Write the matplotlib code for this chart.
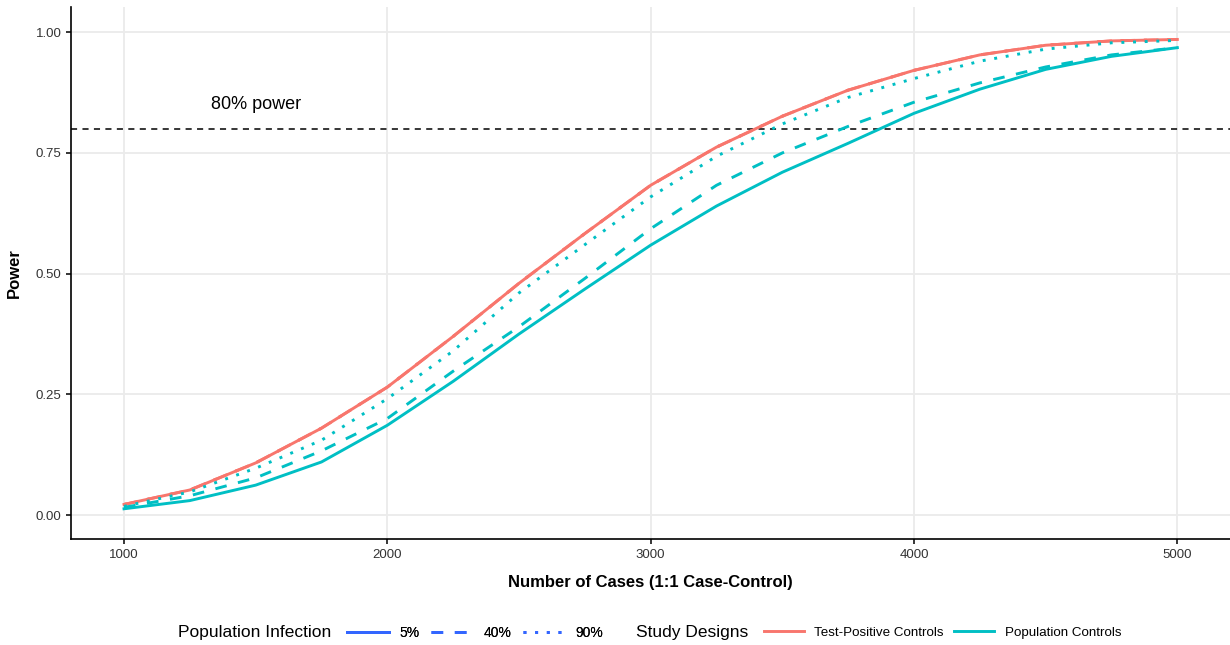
import matplotlib
matplotlib.use("Agg")
from matplotlib import pyplot as plt
from matplotlib.lines import Line2D

plt.rcParams['font.family'] = ['Liberation Sans', 'DejaVu Sans']

cases = [1000, 1250, 1500, 1750, 2000, 2250, 2500, 2750, 3000,
         3250, 3500, 3750, 4000, 4250, 4500, 4750, 5000]

# test-positive controls (same for every infection level)
test_pos = [0.022, 0.052, 0.108, 0.180, 0.265, 0.370, 0.480, 0.583, 0.683,
            0.762, 0.826, 0.880, 0.921, 0.953, 0.973, 0.982, 0.985]

# population controls by population infection
pop_5 = [0.013, 0.030, 0.062, 0.110, 0.186, 0.277, 0.375, 0.468, 0.559,
         0.640, 0.710, 0.770, 0.832, 0.882, 0.923, 0.950, 0.968]
pop_40 = [0.016, 0.040, 0.077, 0.133, 0.200, 0.298, 0.390, 0.490, 0.593,
          0.683, 0.750, 0.805, 0.855, 0.895, 0.928, 0.953, 0.968]
pop_90 = [0.018, 0.048, 0.097, 0.155, 0.241, 0.340, 0.460, 0.560, 0.659,
          0.743, 0.810, 0.865, 0.904, 0.940, 0.965, 0.978, 0.983]

infections = ['5%', '40%', '90%']
designs = ['Test-Positive Controls', 'Population Controls']
red = '#F8766D'
teal = '#00BFC4'
blue = '#3366FF'
styles = ['-', (0, (4, 4)), (0, (1, 3))]

fig = plt.figure(figsize=(12.3, 6.45), dpi=100)
ax = fig.add_axes([0.058, 0.164, 0.942, 0.825])

for pop, ls in zip([pop_5, pop_40, pop_90], styles):
    ax.plot(cases, test_pos, color=red, lw=2.1, ls=ls, zorder=3)
for pop, ls in zip([pop_5, pop_40, pop_90], styles):
    ax.plot(cases, pop, color=teal, lw=2.1, ls=ls, zorder=3)

ax.axhline(0.8, color='black', lw=1.1, ls=(0, (4, 3.5)), zorder=2)
ax.text(1500, 0.85, '80% power', fontsize=13, ha='center', va='center')

ax.set_xlim(800, 5200)
ax.set_ylim(-0.05, 1.052)
ax.set_xticks([1000, 2000, 3000, 4000, 5000])
ax.set_yticks([0, 0.25, 0.5, 0.75, 1.0])
ax.set_yticklabels(['0.00', '0.25', '0.50', '0.75', '1.00'])
ax.grid(True, color='#EBEBEB', lw=1.3, zorder=0)
ax.set_axisbelow(True)
for s in ['top', 'right']:
    ax.spines[s].set_visible(False)
for s in ['left', 'bottom']:
    ax.spines[s].set_linewidth(1.2)
ax.tick_params(labelsize=9.5, colors='#333333', length=3.5, width=1.1)
ax.tick_params(color='black')

ax.set_xlabel('Number of Cases (1:1 Case-Control)', fontsize=12, fontweight='bold', labelpad=10)
ax.set_ylabel('Power', fontsize=12, fontweight='bold', labelpad=10)

# legends at the bottom
inf_handles = [Line2D([], [], color=blue, lw=2.1, ls=ls) for ls in styles]
des_handles = [Line2D([], [], color=c, lw=2.1) for c in [red, teal]]

leg_y = 0.019
fig.text(0.145, leg_y, 'Population Infection', fontsize=12.5, va='center')
leg1 = fig.legend(inf_handles, infections, ncol=3, frameon=False, fontsize=10,
                  loc='center left', bbox_to_anchor=(0.272, leg_y),
                  handlelength=3.0, handletextpad=0.8, columnspacing=0.8)
fig.text(0.517, leg_y, 'Study Designs', fontsize=12.5, va='center')
leg2 = fig.legend(des_handles, designs, ncol=2, frameon=False, fontsize=9.6,
                  loc='center left', bbox_to_anchor=(0.611, leg_y),
                  handlelength=3.0, handletextpad=0.8, columnspacing=0.8)
fig.add_artist(leg1)

fig.savefig('out.png', dpi=100)
